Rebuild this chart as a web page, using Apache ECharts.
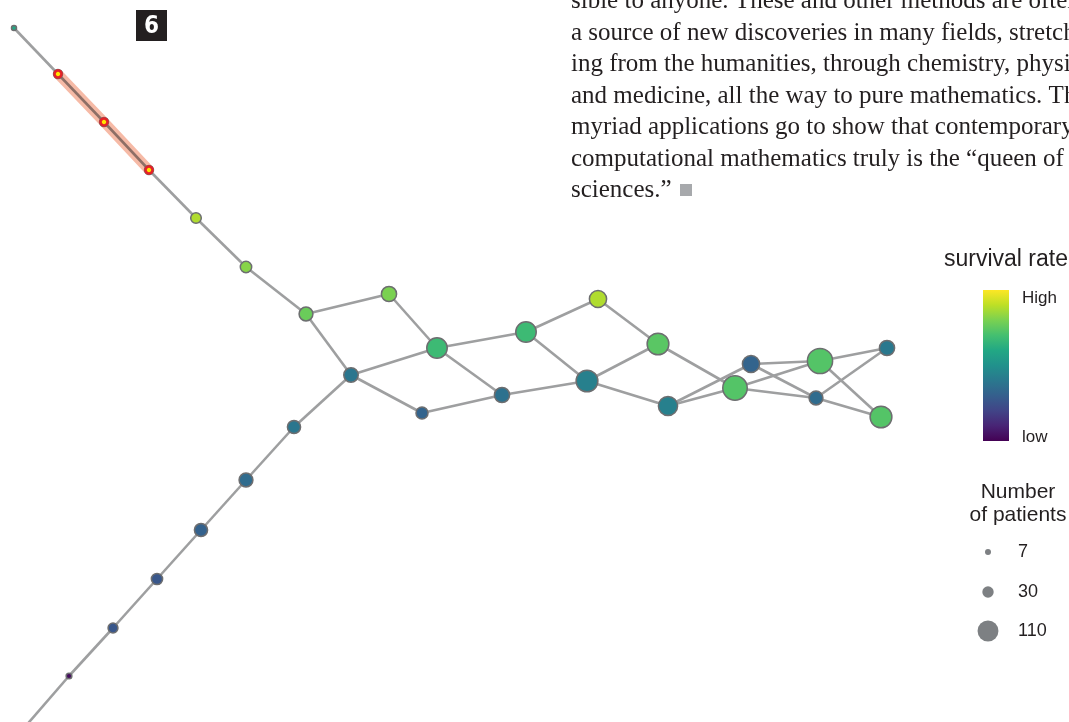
<!DOCTYPE html>
<html><head><meta charset="utf-8">
<script src="https://cdn.jsdelivr.net/npm/echarts@6/dist/echarts.min.js"></script>
<style>html,body{margin:0;padding:0;background:#fff;overflow:hidden}#c{width:1069px;height:722px}</style>
</head><body><div id="c"></div>
<script>
// ---- data (layout units of the hidden axes) ----
const nodeX = [14, 58, 104, 149, 196, 246, 306, 389, 351, 437, 422, 526, 502, 598, 587, 658, 668, 735, 751, 820, 816, 887, 881, 294, 246, 201, 157, 113, 69, 24];
const nodeY = [28, 74, 122, 170, 218, 267, 314, 294, 375, 348, 413, 332, 395, 299, 381, 344, 406, 388, 364, 361, 398, 348, 417, 427, 480, 530, 579, 628, 676, 728];
const survival = [0.60, 0.85, 0.85, 0.85, 0.88, 0.82, 0.77, 0.80, 0.39, 0.68, 0.32, 0.68, 0.37, 0.88, 0.43, 0.74, 0.43, 0.73, 0.32, 0.73, 0.35, 0.40, 0.73, 0.39, 0.35, 0.31, 0.27, 0.27, 0.03, 0.03];
const patients = [7, 22, 22, 22, 31, 36, 53, 64, 58, 116, 40, 116, 64, 82, 131, 131, 102, 166, 82, 176, 53, 64, 131, 48, 53, 48, 35, 27, 9, 9];
const edges = [[0,1],[1,2],[2,3],[3,4],[4,5],[5,6],[6,7],[6,8],[7,9],[8,9],[8,10],[8,23],[9,11],[9,12],[10,12],[11,13],[11,14],[12,14],[13,15],[14,15],[14,16],[15,17],[16,17],[16,18],[18,19],[18,20],[17,19],[17,20],[19,21],[19,22],[20,21],[20,22],[23,24],[24,25],[25,26],[26,27],[27,28],[28,29]];
const highlightNodes = [1, 2, 3];
const panelLabel = '6';
const colorLegendTitle = 'survival rate';
const colorLegendLabels = ['High', 'low'];
const sizeLegendTitle = ['Number', 'of patients'];
const sizeLegendValues = [7, 30, 110];
const bodyText = [
  'sible to anyone. These and other methods are often',
  'a source of new discoveries in many fields, stretch-',
  'ing from the humanities, through chemistry, physics,',
  'and medicine, all the way to pure mathematics. The',
  'myriad applications go to show that contemporary',
  'computational mathematics truly is the \u201cqueen of',
  'sciences.\u201d'
];
const viridis = ['#440154','#482475','#414487','#355f8d','#2a788e','#21918c','#22a884','#44bf70','#7ad151','#bddf26','#fde725'];

function sizeOf(n) { return 1.9 * Math.sqrt(n); }
function hexToRgb(h) { return [1, 3, 5].map(p => parseInt(h.substr(p, 2), 16)); }
function colorOf(v) {
  const t = Math.max(0, Math.min(1, v)) * (viridis.length - 1);
  const i = Math.min(Math.floor(t), viridis.length - 2);
  const f = t - i;
  const a = hexToRgb(viridis[i]), b = hexToRgb(viridis[i + 1]);
  const c = a.map((x, k) => Math.round(x + (b[k] - x) * f));
  return 'rgb(' + c.join(',') + ')';
}

const chart = echarts.init(document.getElementById('c'), null, {renderer: 'canvas'});
const isHL = (s, t) => highlightNodes.includes(s) && highlightNodes.includes(t);

const graphic = [];
// body text
const bodyFont = '25px "Liberation Serif", serif';
bodyText.forEach((line, k) => {
  graphic.push({type: 'text', silent: true, style: {text: line, x: 571, y: 1.5 + 31.5 * k, font: bodyFont, fill: '#231f20', align: 'left', verticalAlign: 'middle'}});
});
graphic.push({type: 'rect', silent: true, shape: {x: 680, y: 184, width: 12, height: 12}, style: {fill: '#a7a9ac'}});
// panel label
graphic.push({type: 'rect', silent: true, shape: {x: 136, y: 10, width: 31, height: 31}, style: {fill: '#231f20'}});
graphic.push({type: 'text', silent: true, style: {text: panelLabel, x: 151.5, y: 26.5, font: 'bold 24px "Liberation Sans Narrow", "DejaVu Sans Condensed", sans-serif', fill: '#ffffff', align: 'center', verticalAlign: 'middle'}});
// color legend
graphic.push({type: 'text', silent: true, style: {text: colorLegendTitle, x: 1006, y: 260, font: '23px "Liberation Sans", Arial, sans-serif', fill: '#231f20', align: 'center', verticalAlign: 'middle'}});
graphic.push({type: 'rect', silent: true, shape: {x: 983, y: 290, width: 26, height: 151}, style: {
  fill: {type: 'linear', x: 0, y: 1, x2: 0, y2: 0, colorStops: viridis.map((c, k) => ({offset: k / (viridis.length - 1), color: c}))}
}});
graphic.push({type: 'text', silent: true, style: {text: colorLegendLabels[0], x: 1022, y: 298, font: '17px "Liberation Sans", Arial, sans-serif', fill: '#231f20', align: 'left', verticalAlign: 'middle'}});
graphic.push({type: 'text', silent: true, style: {text: colorLegendLabels[1], x: 1022, y: 437, font: '17px "Liberation Sans", Arial, sans-serif', fill: '#231f20', align: 'left', verticalAlign: 'middle'}});
// size legend
graphic.push({type: 'text', silent: true, style: {text: sizeLegendTitle[0], x: 1018, y: 492, font: '21px "Liberation Sans", Arial, sans-serif', fill: '#231f20', align: 'center', verticalAlign: 'middle'}});
graphic.push({type: 'text', silent: true, style: {text: sizeLegendTitle[1], x: 1018, y: 515, font: '21px "Liberation Sans", Arial, sans-serif', fill: '#231f20', align: 'center', verticalAlign: 'middle'}});
const sizeRows = [552, 592, 631];
sizeLegendValues.forEach((v, k) => {
  graphic.push({type: 'circle', silent: true, shape: {cx: 988, cy: sizeRows[k], r: sizeOf(v) / 2 + 0.5}, style: {fill: '#7d8083'}});
  graphic.push({type: 'text', silent: true, style: {text: String(v), x: 1018, y: sizeRows[k], font: '18px "Liberation Sans", Arial, sans-serif', fill: '#231f20', align: 'left', verticalAlign: 'middle'}});
});

chart.setOption({
  animation: false,
  grid: {left: 0, top: 0, width: 1069, height: 722, containLabel: false},
  xAxis: {type: 'value', min: 0, max: 1069, show: false},
  yAxis: {type: 'value', min: 0, max: 722, inverse: true, show: false},
  series: [
    {
      type: 'line', silent: true, z: 1,
      data: highlightNodes.map(i => [nodeX[i], nodeY[i]]),
      symbol: 'none', lineStyle: {width: 10, color: '#f5b39c', opacity: 0.9, cap: 'butt'}
    },
    {
      type: 'graph', coordinateSystem: 'cartesian2d', silent: true, z: 2,
      symbol: 'circle',
      data: nodeX.map((x, i) => ({
        value: [x, nodeY[i]],
        symbolSize: sizeOf(patients[i]),
        itemStyle: {color: colorOf(survival[i])}
      })),
      links: edges.map(([s, t]) => isHL(s, t)
        ? {source: s, target: t, lineStyle: {color: '#8e6f66', width: 2.6}}
        : {source: s, target: t}),
      itemStyle: {borderColor: '#6d6e70', borderWidth: 1.5, opacity: 1},
      lineStyle: {color: '#9e9fa0', width: 2.6, opacity: 1, curveness: 0},
      label: {show: false},
      emphasis: {disabled: true}
    },
    {
      type: 'scatter', silent: true, z: 3,
      data: highlightNodes.map(i => [nodeX[i], nodeY[i]]),
      symbolSize: 7,
      itemStyle: {color: '#ffe500', borderColor: '#e42228', borderWidth: 2.6, opacity: 1}
    }
  ],
  graphic: graphic
});
</script>
</body></html>
